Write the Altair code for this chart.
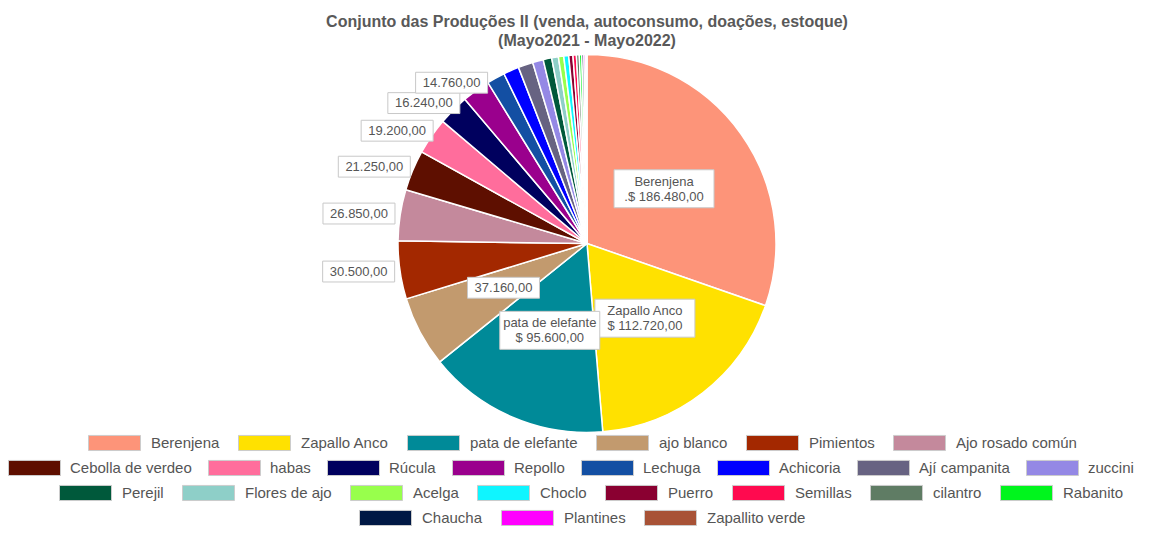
import altair as alt
import pandas as pd

names = ["Berenjena", "Zapallo Anco", "pata de elefante", "ajo blanco", "Pimientos",
         "Ajo rosado común", "Cebolla de verdeo", "habas", "Rúcula", "Repollo",
         "Lechuga", "Achicoria", "Ají campanita", "zuccini", "Perejil",
         "Flores de ajo", "Acelga", "Choclo", "Puerro", "Semillas",
         "cilantro", "Rabanito", "Chaucha", "Plantines", "Zapallito verde"]
values = [186480, 112720, 95600, 37160, 30500,
          26850, 21250, 19200, 16240, 14760,
          9500, 8200, 7800, 5600, 4500,
          3500, 2800, 2600, 2200, 1800,
          1500, 1300, 1100, 900, 700]
colors = ["#fd9479", "#ffe100", "#008a98", "#c29a6e", "#a32800",
          "#c4899c", "#5e0f00", "#ff6d9c", "#00005e", "#9a008d",
          "#134fa3", "#0000ff", "#676382", "#9488e5", "#00593b",
          "#8ecfc8", "#98ff4c", "#0ff5ff", "#8a0031", "#ff0a4f",
          "#5f7c64", "#00f51d", "#001844", "#ff00ff", "#a85236"]
legend_rows = [names[0:6], names[6:14], names[14:22], names[22:25]]
title_lines = ["Conjunto das Produções II (venda, autoconsumo, doações, estoque)",
               "(Mayo2021 - Mayo2022)"]


def fmt(v):
    s = f"{v:,.2f}"
    return s.replace(",", "X").replace(".", ",").replace("X", ".")


labels = []
for i, (n, v) in enumerate(zip(names, values)):
    if i == 0:
        labels.append(f"{n}\n.$ {fmt(v)}")
    elif i < 3:
        labels.append(f"{n}\n$ {fmt(v)}")
    elif v >= 14000:
        labels.append(fmt(v))
    else:
        labels.append("")

df = pd.DataFrame({"name": names, "value": values, "idx": list(range(len(names))),
                   "label": labels})

W, H = 1124, 381
R = 189
FONT = "Liberation Sans"
GREY = "#555555"

base = alt.Chart(df)
cscale = alt.Scale(domain=names, range=colors)

pie = base.mark_arc(outerRadius=R, stroke="white", strokeWidth=1.5).encode(
    theta=alt.Theta("value:Q", stack=True),
    order=alt.Order("idx:Q"),
    color=alt.Color("name:N", scale=cscale, sort=names, legend=None),
)

pos = (base
       .transform_joinaggregate(total="sum(value)")
       .transform_window(cum="sum(value)", sort=[alt.SortField("idx")], frame=[None, 0])
       .transform_filter("datum.label != ''")
       .transform_calculate(
           mid="(datum.cum - datum.value / 2) / datum.total * 2 * PI",
           r=f"datum.value >= 35000 ? {0.5 * R} : {1.13 * R}",
           kx="datum.value >= 35000 ? 1 : 1.08",
           ky="datum.value >= 35000 ? 1 : 0.93",
       )
       .transform_calculate(px="datum.kx * datum.r * sin(datum.mid)",
                            py="datum.ky * datum.r * cos(datum.mid)"))

xenc = alt.X("px:Q", scale=alt.Scale(domain=[-W / 2, W / 2], nice=False, zero=False), axis=None)
yenc = alt.Y("py:Q", scale=alt.Scale(domain=[-H / 2, H / 2], nice=False, zero=False), axis=None)

big = pos.transform_filter("datum.idx < 3")
small = pos.transform_filter("datum.idx >= 3")

box_big = big.mark_point(
    shape="M-1,-0.38L1,-0.38L1,0.38L-1,0.38Z", size=100 * 100, filled=True,
    fill="white", stroke="#c8c8c8", strokeWidth=1, opacity=1,
).encode(x=xenc, y=yenc)

box_small = small.mark_point(
    shape="M-1,-0.29L1,-0.29L1,0.29L-1,0.29Z", size=72 * 72, filled=True,
    fill="white", stroke="#c8c8c8", strokeWidth=1, opacity=1,
).encode(x=xenc, y=yenc)

text_big = big.mark_text(lineBreak="\n", font=FONT, fontSize=13, color=GREY,
                         align="center", baseline="middle", lineHeight=15, dy=-7).encode(
    x=xenc, y=yenc, text="label:N")
text_small = small.mark_text(font=FONT, fontSize=13, color=GREY,
                             align="center", baseline="middle").encode(
    x=xenc, y=yenc, text="label:N")

legend_x = [63, -17, 34, 334]
legend_y = [363, 388, 413, 438]
legend_pad = [16, 14, 16, 16]
legend_off = [10, 9, 10, 10]

legend_layers = []
for row, lx, ly, cp, lo in zip(legend_rows, legend_x, legend_y, legend_pad, legend_off):
    lg = alt.Legend(values=row, orient="none", legendX=lx, legendY=ly,
                    direction="horizontal", title=None,
                    symbolType="M-1,-0.29L1,-0.29L1,0.29L-1,0.29Z", symbolSize=52 * 52,
                    symbolStrokeColor="#cccccc", symbolStrokeWidth=1, symbolOpacity=1,
                    labelFont=FONT, labelFontSize=15, labelColor=GREY,
                    labelOffset=lo, columnPadding=cp, labelLimit=0)
    legend_layers.append(
        base.transform_filter("false").mark_arc().encode(
            color=alt.Color("name:N", scale=cscale, sort=names, legend=lg)))

chart = alt.layer(pie, box_big, box_small, text_big, text_small, *legend_layers).resolve_scale(
    color="independent").resolve_legend(color="independent").properties(
    width=W, height=H,
    padding={"left": 17, "right": 0, "top": 45, "bottom": 92},
    autosize=alt.AutoSizeParams(type="none"),
    title=alt.TitleParams(title_lines, font=FONT, fontSize=16, fontWeight="bold",
                          color="#595959", anchor="middle", offset=3, lineHeight=19),
).configure_view(stroke=None)

chart.save("out.html", embed_options={"renderer": "svg", "actions": False})
